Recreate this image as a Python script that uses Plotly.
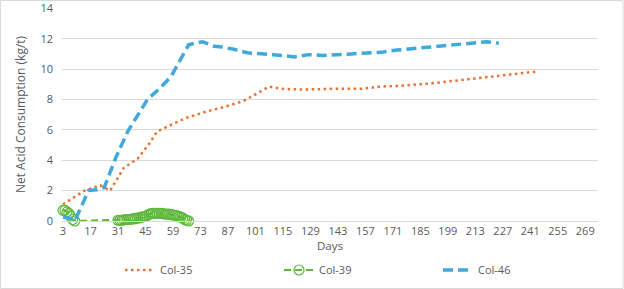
import plotly.graph_objects as go

# ---- data ----
col35_days = [3, 8, 14, 22, 27, 34, 41, 47, 51, 56, 66, 76, 85, 95, 103, 108, 114, 125, 140, 155, 165, 175, 190, 200, 215, 232, 245]
col35_vals = [1.1, 1.5, 2.0, 2.35, 2.0, 3.5, 4.1, 5.1, 5.9, 6.2, 6.8, 7.2, 7.5, 7.9, 8.5, 8.85, 8.7, 8.65, 8.7, 8.7, 8.85, 8.9, 9.05, 9.2, 9.4, 9.7, 9.85]

col39_days = [3, 4, 5, 6, 7, 8, 9,
              31, 32, 33, 34, 35, 36, 37, 38, 39, 40, 41, 42, 43, 44, 45, 46, 47, 48, 49, 50,
              51, 52, 53, 54, 55, 56, 57, 58, 59, 60, 61, 62, 63, 64, 65, 66, 67, 68]
col39_vals = [0.7, 0.7, 0.6, 0.5, 0.3, 0.1, 0.0,
              0.05, 0.05, 0.05, 0.08, 0.1, 0.1, 0.1, 0.12, 0.15, 0.15, 0.2, 0.2, 0.25, 0.28, 0.3, 0.38, 0.45, 0.48, 0.5, 0.5,
              0.5, 0.5, 0.5, 0.48, 0.45, 0.45, 0.45, 0.42, 0.4, 0.38, 0.35, 0.3, 0.25, 0.2, 0.1, 0.05, 0.0, -0.02]

col46_days = [3, 6, 9, 16, 20, 24, 30, 36, 46, 52, 58, 63, 67, 70, 74, 80, 84, 90, 97, 110, 121, 128, 135, 150, 165, 173, 185, 200, 210, 219, 225]
col46_vals = [0.25, 0.2, 0.0, 2.0, 2.05, 2.2, 4.2, 5.9, 8.0, 8.7, 9.5, 10.7, 11.6, 11.7, 11.8, 11.5, 11.45, 11.3, 11.07, 10.95, 10.8, 10.95, 10.9, 11.0, 11.1, 11.25, 11.4, 11.6, 11.7, 11.8, 11.7]

x_ticks = [3, 17, 31, 45, 59, 73, 87, 101, 115, 129, 143, 157, 171, 185, 199, 213, 227, 241, 255, 269]
y_ticks = [0, 2, 4, 6, 8, 10, 12, 14]

ORANGE = "#E97132"
GREEN = "#5BB83A"
BLUE = "#3FA9DC"
TXT = "#595959"
GRID = "#D9D9D9"
FONT = "Open Sans"

fig = go.Figure()
fig.add_trace(go.Scatter(x=col35_days, y=col35_vals, name="Col-35", mode="lines", cliponaxis=False,
                         line=dict(color=ORANGE, width=2.5, dash="2.5px,3.5px")))
fig.add_trace(go.Scatter(x=col39_days, y=col39_vals, name="Col-39", mode="lines+markers", cliponaxis=False,
                         line=dict(color=GREEN, width=2, dash="7px,4px"),
                         marker=dict(symbol="circle-open", size=10, color=GREEN, line=dict(width=1.2, color=GREEN))))
fig.add_trace(go.Scatter(x=col46_days, y=col46_vals, name="Col-46", mode="lines", cliponaxis=False,
                         line=dict(color=BLUE, width=3.5, dash="10px,5px")))

fig.update_layout(
    width=624, height=289,
    margin=dict(l=62, r=26, t=8, b=68, autoexpand=False),
    paper_bgcolor="white", plot_bgcolor="white",
    font=dict(family=FONT, size=11, color=TXT),
    showlegend=True,
    legend=dict(orientation="h", xref="container", yref="container",
                x=120/624, xanchor="left", y=1-270/289, yanchor="middle",
                entrywidth=114, entrywidthmode="pixels",
                font=dict(family=FONT, size=11, color=TXT), bgcolor="rgba(0,0,0,0)"),
    shapes=[dict(type="rect", xref="paper", yref="paper", x0=-61.5/536, x1=1+25/536, y0=-67.5/213, y1=1+7.5/213,
                 line=dict(color="#D9D9D9", width=1), fillcolor="rgba(0,0,0,0)", layer="below")],
)
fig.update_xaxes(range=[2.5, 275.5], tickvals=x_ticks, ticktext=[str(t) for t in x_ticks],
                 showgrid=False, zeroline=False, showline=True, linecolor=GRID, linewidth=1,
                 ticks="", tickfont=dict(size=11, color=TXT),
                 title=dict(text="Days", font=dict(size=11.5, color=TXT), standoff=4))
fig.update_yaxes(range=[0, 14.02], tickvals=y_ticks, showgrid=True, gridcolor=GRID, gridwidth=1,
                 zeroline=False, showline=False, ticks="", ticklabelstandoff=8,
                 tickfont=dict(size=11, color=TXT),
                 title=dict(text="Net Acid Consumption (kg/t)", font=dict(size=12, color=TXT), standoff=12))

fig.write_html("out.html")
